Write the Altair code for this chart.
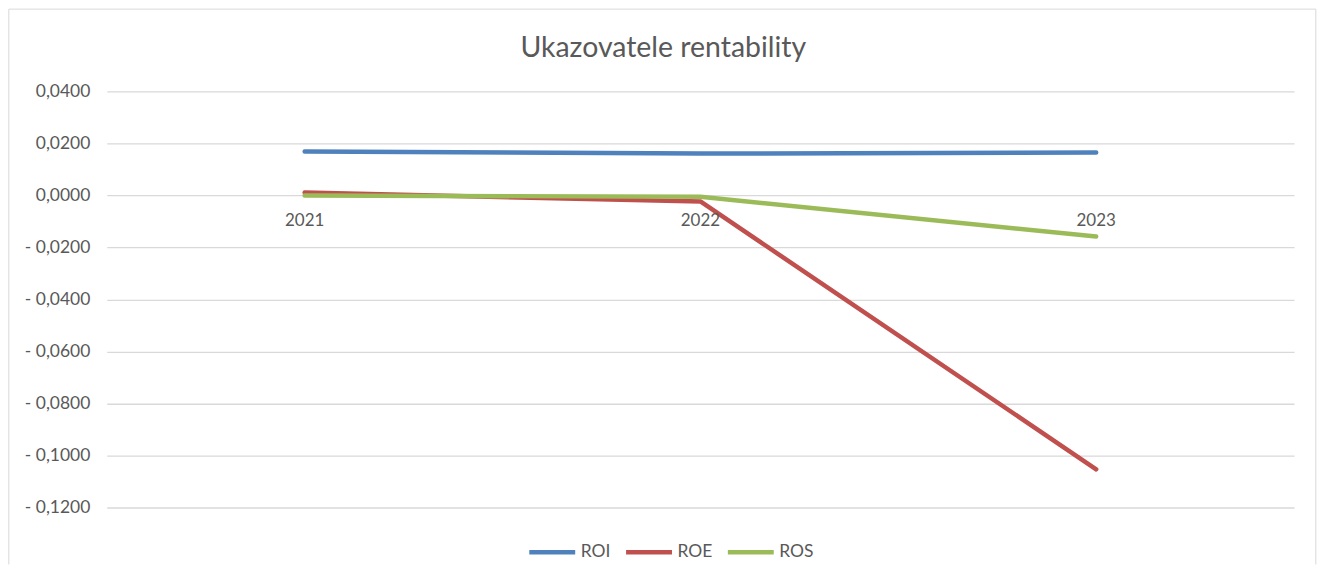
import altair as alt
import pandas as pd

years = ["2021", "2022", "2023"]
series = ["ROI", "ROE", "ROS"]
roi = [0.0169, 0.0161, 0.0165]
roe = [0.0011, -0.0023, -0.1053]
ros = [0.0000, -0.0005, -0.0158]
colors = ["#4F81BD", "#C0504D", "#9BBB59"]
y_ticks = [0.04, 0.02, 0.0, -0.02, -0.04, -0.06, -0.08, -0.10, -0.12]
title_text = "Ukazovatele rentability"

rows = []
for name, vals in zip(series, [roi, roe, ros]):
    for yr, v in zip(years, vals):
        rows.append({"rok": yr, "ukazovatel": name, "hodnota": v})
df = pd.DataFrame(rows)

FONT = "Lato"
TXT = "#595959"
GRID = "#D9D9D9"
W, H = 1190, 417

label_expr = ("(datum.value < 0 ? '- ' : '') + "
              "replace(format(abs(datum.value), '.4f'), '.', ',')")

x_enc = alt.X("rok:N", sort=years, axis=None,
              scale=alt.Scale(type="point", padding=0.5))

lines = alt.Chart(df).mark_line(strokeWidth=4.5, strokeCap="round", strokeJoin="round").encode(
    x=x_enc,
    y=alt.Y("hodnota:Q", title=None,
            scale=alt.Scale(domain=[-0.12, 0.04], nice=False, zero=False),
            axis=alt.Axis(values=y_ticks, labelExpr=label_expr, domain=False, ticks=False,
                          grid=True, gridColor=GRID, gridWidth=1.3, labelPadding=17,
                          labelFont=FONT, labelFontSize=17.5, labelColor=TXT)),
    color=alt.Color("ukazovatel:N", sort=series,
                    scale=alt.Scale(domain=series, range=colors),
                    legend=alt.Legend(title=None, orient="none", direction="horizontal",
                                      legendX=421, legendY=436,
                                      symbolType="stroke", symbolSize=2116,
                                      symbolStrokeWidth=4.5, labelFont=FONT,
                                      labelFontSize=17.5, labelColor=TXT,
                                      columnPadding=6, labelOffset=3)),
)

year_df = pd.DataFrame({"rok": years, "nula": [0.0] * len(years)})
year_text = alt.Chart(year_df).mark_text(font=FONT, fontSize=17, color=TXT,
                                         baseline="middle", dy=26).encode(
    x=alt.X("rok:N", sort=years), y=alt.Y("nula:Q"), text="rok:N"
)

one = pd.DataFrame({"t": [title_text]})
title = alt.Chart(one).mark_text(font=FONT, fontSize=28.5, color=TXT,
                                 baseline="middle", align="center").encode(
    x=alt.value(557.8), y=alt.value(-44), text="t:N"
)

border_style = dict(color=GRID, strokeWidth=1)
left = alt.Chart(one).mark_rule(**border_style).encode(
    x=alt.value(-98.2), y=alt.value(-82.5), y2=alt.value(474))
right = alt.Chart(one).mark_rule(**border_style).encode(
    x=alt.value(1211.8), y=alt.value(-82.5), y2=alt.value(474))
top = alt.Chart(one).mark_rule(**border_style).encode(
    x=alt.value(-98.2), x2=alt.value(1211.8), y=alt.value(-82.5))

chart = alt.layer(left, right, top, title, lines, year_text).properties(
    width=W, height=H
).configure(padding=0, background="white").configure_view(stroke=None)

chart.save("out.html", embed_options={"renderer": "svg", "actions": False})
